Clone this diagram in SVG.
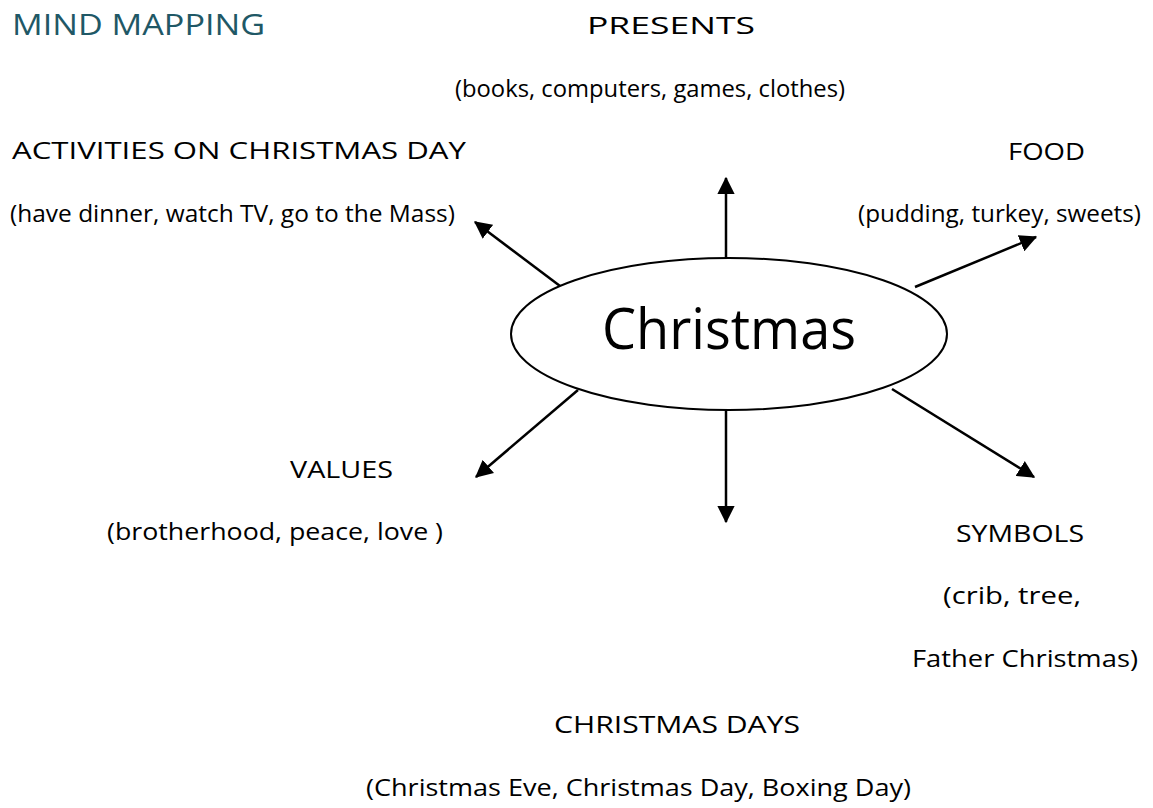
<svg xmlns="http://www.w3.org/2000/svg" width="1153" height="808" viewBox="0 0 1153 808">
<style>
.t{font-family:"Open Sans","DejaVu Sans",sans-serif;font-size:23px;fill:#000}
.h{font-family:"Open Sans","DejaVu Sans",sans-serif;font-size:30px;fill:#1f5866}
.c{font-family:"Open Sans","Liberation Sans",sans-serif;font-size:57px;fill:#000}
.l{stroke:#000;stroke-width:2.5;fill:none;marker-end:url(#ah)}
</style>
<defs>
<marker id="ah" markerWidth="7" markerHeight="7" refX="6.5" refY="3.5" orient="auto" markerUnits="strokeWidth">
<path d="M0,0 L7,3.5 L0,7 Z" fill="#000"/>
</marker>
</defs>
<rect width="1153" height="808" fill="#fff"/>
<text class="h" x="12" y="35" textLength="253" lengthAdjust="spacingAndGlyphs">MIND MAPPING</text>
<g id="presents">
<text class="t" x="587" y="34" textLength="168" lengthAdjust="spacingAndGlyphs">PRESENTS</text>
<text class="t" x="455" y="97" textLength="390" lengthAdjust="spacingAndGlyphs">(books, computers, games, clothes)</text>
</g>
<g id="activities">
<text class="t" x="12" y="159" textLength="454" lengthAdjust="spacingAndGlyphs">ACTIVITIES ON CHRISTMAS DAY</text>
<text class="t" x="10" y="222" textLength="445" lengthAdjust="spacingAndGlyphs">(have dinner, watch TV, go to the Mass)</text>
</g>
<g id="food">
<text class="t" x="1008" y="160" textLength="77" lengthAdjust="spacingAndGlyphs">FOOD</text>
<text class="t" x="858" y="222" textLength="283" lengthAdjust="spacingAndGlyphs">(pudding, turkey, sweets)</text>
</g>
<g id="values">
<text class="t" x="290" y="478" textLength="103" lengthAdjust="spacingAndGlyphs">VALUES</text>
<text class="t" x="107" y="540" textLength="336" lengthAdjust="spacingAndGlyphs">(brotherhood, peace, love )</text>
</g>
<g id="symbols">
<text class="t" x="956" y="542" textLength="128" lengthAdjust="spacingAndGlyphs">SYMBOLS</text>
<text class="t" x="943" y="604" textLength="138" lengthAdjust="spacingAndGlyphs">(crib, tree,</text>
<text class="t" x="912" y="667" textLength="226" lengthAdjust="spacingAndGlyphs">Father Christmas)</text>
</g>
<g id="days">
<text class="t" x="554" y="733" textLength="246" lengthAdjust="spacingAndGlyphs">CHRISTMAS DAYS</text>
<text class="t" x="366" y="796" textLength="545" lengthAdjust="spacingAndGlyphs">(Christmas Eve, Christmas Day, Boxing Day)</text>
</g>
<g id="center">
<ellipse cx="729" cy="334" rx="218" ry="76" fill="#fff" stroke="#000" stroke-width="2"/>
<text class="c" x="602" y="349" textLength="254" lengthAdjust="spacingAndGlyphs">Christmas</text>
</g>
<g id="connectors">
<line class="l" x1="726" y1="258" x2="726" y2="178"/>
<line class="l" x1="726" y1="410" x2="726" y2="522"/>
<line class="l" x1="560" y1="286" x2="475" y2="222"/>
<line class="l" x1="578" y1="390" x2="476" y2="477"/>
<line class="l" x1="892" y1="389" x2="1034" y2="477"/>
<line class="l" x1="915" y1="287" x2="1036" y2="237"/>
</g>
</svg>
